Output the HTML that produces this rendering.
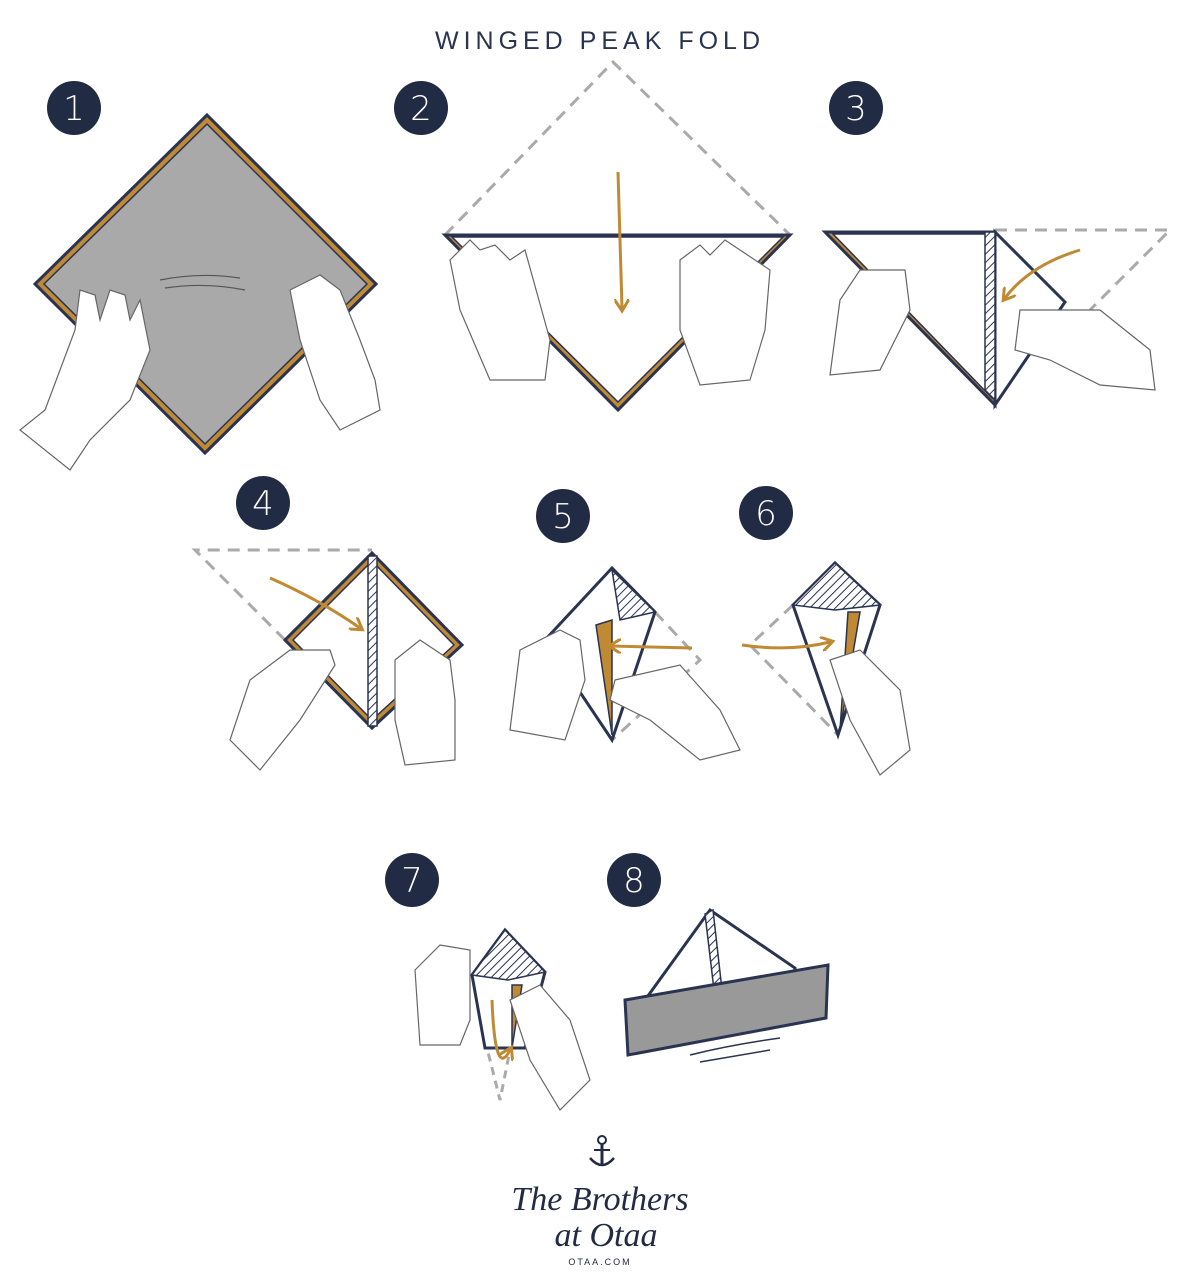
<!DOCTYPE html>
<html><head><meta charset="utf-8"><style>
html,body{margin:0;padding:0;background:#fff;}
svg{display:block}
</style></head><body>
<svg width="1200" height="1288" viewBox="0 0 1200 1288" xmlns="http://www.w3.org/2000/svg" font-family="Liberation Sans, sans-serif">
<defs>
<pattern id="h" width="6" height="6" patternUnits="userSpaceOnUse" patternTransform="rotate(45)">
<rect width="6" height="6" fill="#fff"/><line x1="0" y1="0" x2="0" y2="6" stroke="#2a3350" stroke-width="2"/></pattern>
<marker id="ah" viewBox="0 0 10 10" refX="6" refY="5" markerWidth="5" markerHeight="5" orient="auto"><path d="M0,0 L8,5 L0,10" fill="none" stroke="#c08a35" stroke-width="2"/></marker>
</defs>
<text x="600" y="49" text-anchor="middle" font-size="25" fill="#2a3350" letter-spacing="5">WINGED PEAK FOLD</text>

<g fill="#222b44">
<circle cx="74" cy="108" r="27"/><circle cx="421" cy="108" r="27"/><circle cx="856" cy="108" r="27"/>
<circle cx="263" cy="503" r="27"/><circle cx="563" cy="516" r="27"/><circle cx="766" cy="513" r="27"/>
<circle cx="412" cy="880" r="27"/><circle cx="634" cy="880" r="27"/>
</g>
<g fill="#fff" font-size="34" text-anchor="middle" font-family="DejaVu Sans, sans-serif" font-weight="200">
<text x="74" y="120">1</text><text x="421" y="120">2</text><text x="856" y="120">3</text>
<text x="263" y="515">4</text><text x="563" y="528">5</text><text x="766" y="525">6</text>
<text x="412" y="892">7</text><text x="634" y="892">8</text>
</g>

<g stroke-linejoin="miter">
<polygon points="207,115 376,284 205,453 35,284" fill="#c08a35" stroke="#2a3350" stroke-width="3"/>
<polygon points="207,124 367,284 205,444 44,284" fill="#a9a9a9" stroke="#2a3350" stroke-width="1.5"/>
<path d="M160,280 Q200,272 240,278 M165,288 Q205,282 245,290" fill="none" stroke="#555" stroke-width="1.2"/>
<polyline points="445,235 613,62 790,235" fill="none" stroke="#aaa" stroke-width="3" stroke-dasharray="12,8"/>
<polygon points="445,235 790,235 618,410" fill="#c08a35" stroke="#2a3350" stroke-width="3"/>
<polygon points="452,237 783,237 618,402" fill="#fff" stroke="#2a3350" stroke-width="1.5"/>
<path d="M618,172 Q620,240 622,308" fill="none" stroke="#c08a35" stroke-width="3" marker-end="url(#ah)"/>
<polyline points="995,230 1170,230 1090,310" fill="none" stroke="#aaa" stroke-width="3" stroke-dasharray="12,8"/>
<polygon points="825,232 995,232 995,405" fill="#c08a35" stroke="#2a3350" stroke-width="3"/>
<polygon points="833,234 992,234 992,398" fill="#fff" stroke="#2a3350" stroke-width="1.5"/>
<polygon points="995,232 1065,302 995,405" fill="#fff" stroke="#2a3350" stroke-width="3"/>
<polygon points="985,232 995,232 995,400 985,390" fill="url(#h)" stroke="#2a3350" stroke-width="1.5"/>
<path d="M1080,250 Q1030,265 1005,298" fill="none" stroke="#c08a35" stroke-width="3" marker-end="url(#ah)"/>
<polyline points="285,640 195,550 372,550" fill="none" stroke="#aaa" stroke-width="3" stroke-dasharray="12,8"/>
<polygon points="285,640 372,553 462,645 372,728" fill="#c08a35" stroke="#2a3350" stroke-width="3"/>
<polygon points="293,640 372,561 454,645 372,720" fill="#fff" stroke="#2a3350" stroke-width="1.5"/>
<rect x="368" y="556" width="9" height="170" fill="url(#h)" stroke="#2a3350" stroke-width="1.5"/>
<path d="M270,578 Q320,600 360,628" fill="none" stroke="#c08a35" stroke-width="3" marker-end="url(#ah)"/>
<polyline points="655,612 700,660 612,740" fill="none" stroke="#aaa" stroke-width="3" stroke-dasharray="12,8"/>
<polygon points="545,640 612,568 655,612 612,740" fill="#fff" stroke="#2a3350" stroke-width="3"/>
<polygon points="612,570 655,612 620,620" fill="url(#h)" stroke="#2a3350" stroke-width="1.5"/>
<polygon points="596,625 612,620 612,735" fill="#c08a35" stroke="#2a3350" stroke-width="1.5"/>
<path d="M692,648 L612,646" fill="none" stroke="#c08a35" stroke-width="3" marker-end="url(#ah)"/>
<polyline points="793,605 750,645 838,735" fill="none" stroke="#aaa" stroke-width="3" stroke-dasharray="12,8"/>
<polygon points="793,605 835,563 880,605 838,735" fill="#fff" stroke="#2a3350" stroke-width="3"/>
<polygon points="793,605 835,563 880,605 835,610" fill="url(#h)" stroke="#2a3350" stroke-width="1.5"/>
<polygon points="848,612 860,612 840,730" fill="#c08a35" stroke="#2a3350" stroke-width="1.5"/>
<path d="M742,645 Q790,652 830,642" fill="none" stroke="#c08a35" stroke-width="3" marker-end="url(#ah)"/>
<polyline points="485,1040 500,1100 512,1040" fill="none" stroke="#aaa" stroke-width="3" stroke-dasharray="8,6"/>
<polygon points="472,975 505,930 545,972 525,1048 485,1048" fill="#fff" stroke="#2a3350" stroke-width="3"/>
<polygon points="472,975 505,930 545,972 508,980" fill="url(#h)" stroke="#2a3350" stroke-width="1.5"/>
<polygon points="512,985 522,985 512,1048" fill="#c08a35" stroke="#2a3350" stroke-width="1.5"/>
<path d="M492,1000 Q495,1080 510,1050" fill="none" stroke="#c08a35" stroke-width="3" marker-end="url(#ah)"/>
<polygon points="645,1000 710,910 795,968 795,1000" fill="#fff" stroke="#2a3350" stroke-width="3"/>
<polygon points="705,914 713,910 722,990 714,990" fill="url(#h)" stroke="#2a3350" stroke-width="1.5"/>
<polygon points="625,1000 828,965 826,1018 628,1055" fill="#999" stroke="#2a3350" stroke-width="3"/>
<path d="M690,1055 Q730,1045 780,1038 M700,1062 Q740,1055 770,1050" fill="none" stroke="#2a3350" stroke-width="1.5"/>
</g>

<g fill="#fff" stroke="#666" stroke-width="1.2">
<path d="M45,410 L75,330 L80,290 L95,295 L100,320 L110,290 L125,295 L130,320 L140,300 L150,350 L130,400 L90,440 L70,470 L20,430 Z"/>
<path d="M290,290 L320,275 L340,290 L360,340 L375,380 L380,410 L340,430 L320,400 L300,340 Z"/>
<path d="M450,260 L470,240 L480,250 L495,245 L510,260 L525,250 L550,340 L545,380 L490,380 L460,310 Z"/>
<path d="M680,260 L700,245 L710,255 L725,240 L740,250 L770,270 L765,330 L750,380 L700,385 L680,330 Z"/>
<path d="M840,300 L860,270 L905,270 L910,310 L880,370 L830,375 Z"/>
<path d="M1020,310 L1100,310 L1150,350 L1155,390 L1100,385 L1050,360 L1015,350 Z"/>
<path d="M230,740 L250,680 L290,650 L330,650 L335,665 L300,720 L260,770 Z"/>
<path d="M395,660 L420,640 L450,660 L455,700 L455,760 L405,765 L395,720 Z"/>
<path d="M510,730 L520,650 L560,630 L580,640 L585,680 L565,740 Z"/>
<path d="M615,680 L680,665 L720,710 L740,750 L700,760 L650,720 L610,700 Z"/>
<path d="M830,660 L860,650 L900,690 L910,750 L880,775 L850,720 Z"/>
<path d="M415,970 L440,945 L470,950 L470,1020 L460,1045 L420,1045 Z"/>
<path d="M510,1000 L540,985 L570,1020 L590,1080 L560,1110 L530,1060 Z"/>
</g>

<g fill="#222b44" stroke="#222b44">
<circle cx="602" cy="1140" r="4" fill="none" stroke-width="2"/>
<line x1="602" y1="1144" x2="602" y2="1166" stroke-width="3"/>
<line x1="594" y1="1150" x2="610" y2="1150" stroke-width="2"/>
<path d="M590,1158 Q602,1172 614,1158" fill="none" stroke-width="2.5"/>
</g>
<text x="600" y="1210" text-anchor="middle" style="font-family:'Liberation Serif',serif;font-style:italic" font-size="34" fill="#222b44">The Brothers</text>
<text x="606" y="1246" text-anchor="middle" style="font-family:'Liberation Serif',serif;font-style:italic" font-size="34" fill="#222b44">at Otaa</text>
<text x="600" y="1265" text-anchor="middle" font-size="9" letter-spacing="2" fill="#222b44">OTAA.COM</text>
</svg>
</body></html>
